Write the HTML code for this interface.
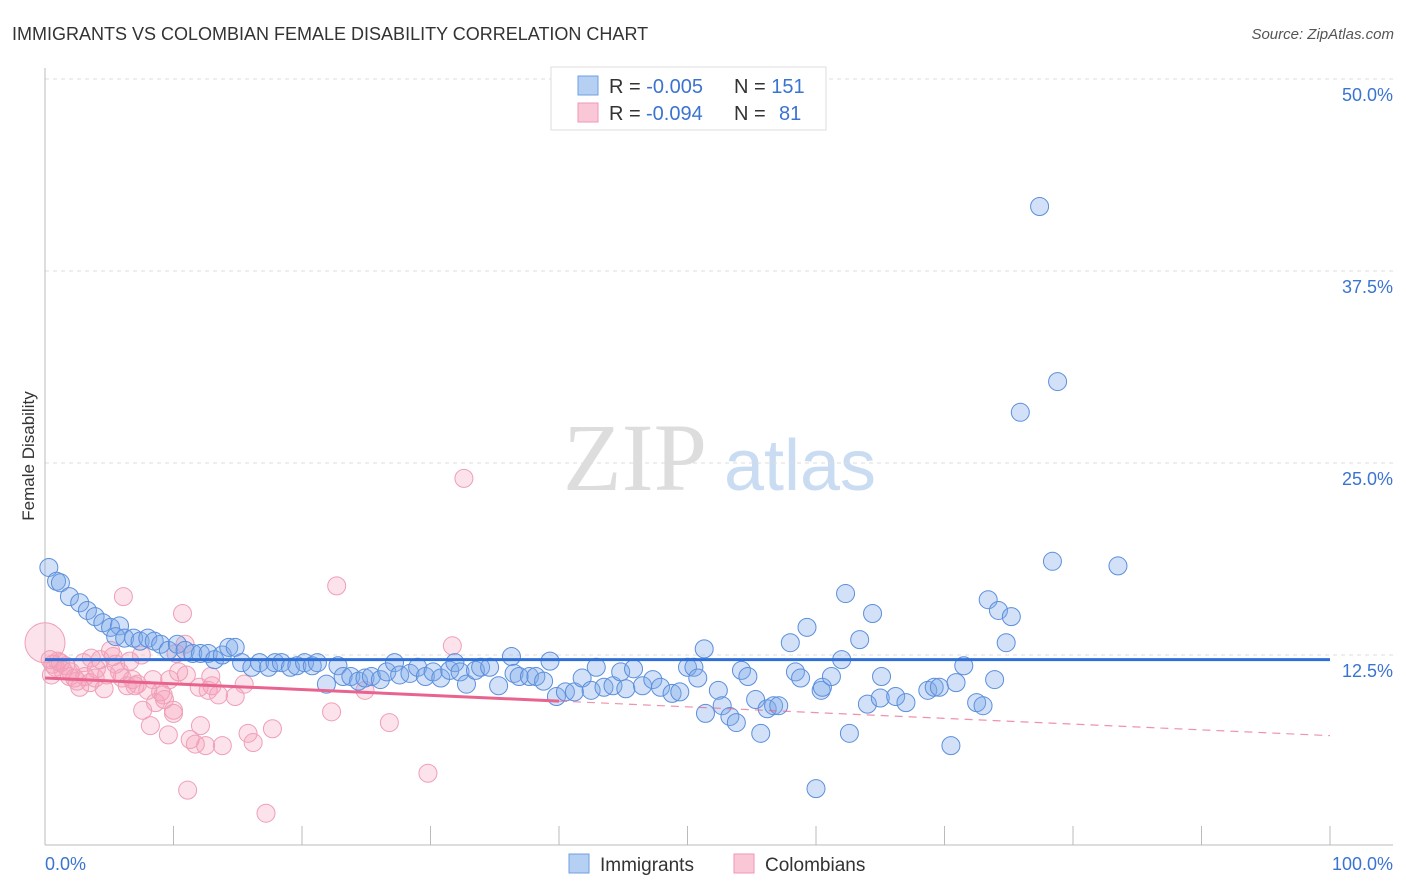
<!DOCTYPE html>
<html><head><meta charset="utf-8"><style>
body{margin:0;background:#fff;font-family:"Liberation Sans",sans-serif;}
svg{display:block}
</style></head><body>
<svg id="chart" width="1406" height="892" xmlns="http://www.w3.org/2000/svg">
<text x="12" y="40" font-size="18" fill="#333">IMMIGRANTS VS COLOMBIAN FEMALE DISABILITY CORRELATION CHART</text>
<text x="1394" y="39" font-size="15" fill="#555" font-style="italic" text-anchor="end">Source: ZipAtlas.com</text>
<text x="34" y="456" font-size="17" fill="#333" text-anchor="middle" transform="rotate(-90 34 456)">Female Disability</text>
<g>
<text x="635" y="490" font-size="96" fill="#ddd" text-anchor="middle" font-family="Liberation Serif,serif">ZIP</text>
<text x="800" y="490" font-size="72" fill="#c9dcf2" text-anchor="middle">atlas</text>
</g>
<g id="grid"></g><g id="axes"></g><g id="marks"></g><g id="trends"></g>
<g>
<rect x="551" y="67" width="275" height="63" fill="#fff" stroke="#ddd"/>
<rect x="578" y="76" width="20" height="19" fill="#b5d0f3" stroke="#6f9fe0"/>
<rect x="578" y="103" width="20" height="19" fill="#f9c7d6" stroke="#ee9ab5"/>
<text x="609" y="93" font-size="20" fill="#333">R = <tspan fill="#3a74d0">-0.005</tspan><tspan x="734">N = </tspan><tspan fill="#3a74d0">151</tspan></text>
<text x="609" y="120" font-size="20" fill="#333">R = <tspan fill="#3a74d0" x="646">-0.094</tspan><tspan x="734">N = </tspan><tspan fill="#3a74d0" x="779">81</tspan></text>
</g>
<g>
<rect x="569" y="854" width="20" height="19" fill="#b5d0f3" stroke="#6f9fe0"/>
<text x="600" y="871" font-size="19" fill="#333">Immigrants</text>
<rect x="734" y="854" width="20" height="19" fill="#f9c7d6" stroke="#ee9ab5"/>
<text x="765" y="871" font-size="19" fill="#333">Colombians</text>
</g>
</svg>
<script>
const yTicks=[12.5,25,37.5,50];
const yTickLabels=["12.5%","25.0%","37.5%","50.0%"];
const xTickLabels=["0.0%","100.0%"];
const immX=[0.3,0.9,1.2,1.9,2.7,3.3,3.9,4.5,5.1,5.8,5.5,6.2,6.9,7.4,8.0,8.5,9.0,9.6,10.3,10.9,11.5,12.1,12.7,13.2,13.8,14.3,14.8,15.3,16.1,16.7,17.4,17.9,18.4,19.1,19.6,20.2,20.8,21.2,21.9,22.8,23.2,23.8,24.4,24.9,25.4,26.1,26.6,27.2,27.6,28.4,29.0,29.6,30.2,30.8,31.5,31.9,32.3,32.8,33.5,33.9,34.6,35.3,36.3,36.5,36.9,37.7,38.2,38.8,39.3,39.8,40.5,41.2,41.8,42.5,42.9,43.5,44.2,44.8,45.2,45.8,46.5,47.3,47.9,48.8,49.4,50.0,50.5,50.8,51.3,51.4,52.4,52.7,53.3,53.8,54.2,54.7,55.3,55.7,56.2,56.7,57.1,58.0,58.4,58.8,59.3,60.0,60.4,60.5,61.2,62.0,62.3,62.6,63.4,64.0,64.4,65.0,65.1,66.2,67.0,68.7,69.2,69.6,70.5,70.9,71.5,72.5,73.0,73.4,73.9,74.2,74.8,75.2,75.9,77.4,78.4,78.8,83.5];
const immY=[18.2,17.3,17.2,16.3,15.9,15.4,15.0,14.6,14.3,14.4,13.7,13.6,13.6,13.4,13.6,13.4,13.2,12.8,13.2,12.8,12.6,12.6,12.6,12.2,12.5,13.0,13.0,12.0,11.7,12.0,11.7,12.0,12.0,11.7,11.8,12.0,11.8,12.0,10.6,11.8,11.1,11.1,10.8,11.0,11.1,10.9,11.4,12.0,11.2,11.3,11.7,11.1,11.4,11.0,11.5,12.0,11.4,10.6,11.5,11.7,11.7,10.5,12.4,11.3,11.1,11.1,11.1,10.8,12.1,9.8,10.1,10.1,11.0,10.2,11.7,10.4,10.5,11.4,10.3,11.6,10.5,10.9,10.4,10.0,10.1,11.7,11.7,11.0,12.9,8.7,10.2,9.2,8.5,8.1,11.5,11.1,9.6,7.4,9.0,9.2,9.2,13.3,11.4,11.0,14.3,3.8,10.2,10.4,11.1,12.2,16.5,7.4,13.5,9.3,15.2,9.7,11.1,9.8,9.4,10.2,10.4,10.4,6.6,10.7,11.8,9.4,9.2,16.1,10.9,15.4,13.3,15.0,28.3,41.7,18.6,30.3,18.3];
const colX=[0.4,0.8,1.2,1.6,0.5,1.9,2.3,2.7,3.1,3.5,3.9,4.3,4.6,5.1,5.5,5.8,6.1,6.4,6.8,7.2,7.5,7.6,8.0,8.2,8.6,9.0,9.3,9.6,9.7,10.0,10.0,10.4,10.7,10.9,11.1,11.3,11.7,12.1,12.5,12.7,13.0,13.8,14.8,15.5,15.8,16.2,17.2,17.7,22.3,22.7,24.9,26.8,29.8,31.7,32.6,0.6,1.0,1.4,2.0,2.5,3.0,3.6,4.0,4.8,5.3,6.0,6.6,7.0,8.4,9.2,10.2,11.0,12.0,12.9,13.5];
const colY=[12.2,11.7,12.0,11.8,11.2,11.1,11.0,10.4,11.1,10.7,11.0,12.2,10.3,12.8,11.9,11.4,16.3,10.5,10.9,10.6,12.5,8.9,10.2,7.9,9.4,10.1,9.6,7.3,10.9,8.9,8.7,11.4,15.2,13.2,3.7,7.0,6.7,7.9,6.6,10.2,10.5,6.6,9.8,10.6,7.4,6.8,2.2,7.7,8.8,17.0,10.2,8.1,4.8,13.1,24.0,11.9,12.1,11.5,11.4,10.8,12.0,12.3,11.6,11.2,12.4,11.0,12.1,10.5,10.9,9.9,12.6,11.2,10.4,11.1,9.9];
const immTrend=[12.2,12.2];
const colTrend=[11.0,7.25];
const colSolidEnd=40;
const X0=45,X1=1330,Y0=847,YS=(847-79)/50;
const sx=v=>X0+(X1-X0)*v/100;
const sy=v=>Y0-v*YS;
const NS="http://www.w3.org/2000/svg";
function mk(tag,attrs,parent){const e=document.createElementNS(NS,tag);for(const k in attrs)e.setAttribute(k,attrs[k]);parent.appendChild(e);return e;}
const grid=document.getElementById('grid'),axes=document.getElementById('axes'),marks=document.getElementById('marks'),trends=document.getElementById('trends');
yTicks.forEach((t,i)=>{
 const l=mk('line',{x1:X0,x2:1393,y1:sy(t),y2:sy(t),stroke:'#ddd','stroke-dasharray':'4,4'},grid);
 
 
 const tx=mk('text',{x:1393,y:sy(t)+22,'font-size':18,fill:'#3a74d0','text-anchor':'end'},axes);
 tx.textContent=yTickLabels[i];
 
 
});
let a=mk('line',{x1:X0,x2:X0,y1:68,y2:845,stroke:'#bbb'},axes);


a=mk('line',{x1:X0,x2:1393,y1:845,y2:845,stroke:'#bbb'},axes);


for(let i=0;i<=10;i++){
 const t=mk('line',{x1:sx(i*10),x2:sx(i*10),y1:826,y2:845,stroke:'#bbb'},axes);
 
 
}
let xl=mk('text',{x:45,y:870,'font-size':18,fill:'#3a74d0'},axes);xl.textContent=xTickLabels[0];


xl=mk('text',{x:1393,y:870,'font-size':18,fill:'#3a74d0','text-anchor':'end'},axes);xl.textContent=xTickLabels[1];


const big=mk('circle',{cx:sx(0),cy:sy(13.3),r:20,fill:'rgba(244,160,186,0.3)',stroke:'#ef9fb8'},marks);


colX.forEach((x,i)=>{
 const c=mk('circle',{cx:sx(x),cy:sy(colY[i]),r:9,fill:'rgba(244,160,186,0.3)',stroke:'#ef9fb8'},marks);
 
 
});
immX.forEach((x,i)=>{
 const c=mk('circle',{cx:sx(x),cy:sy(immY[i]),r:9,fill:'rgba(125,170,232,0.35)',stroke:'#5b8fdc'},marks);
 
 
});
let tl=mk('line',{x1:sx(0),x2:sx(100),y1:sy(immTrend[0]),y2:sy(immTrend[1]),stroke:'#2f6fd6','stroke-width':3},trends);


const cy=x=>colTrend[0]+(colTrend[1]-colTrend[0])*x/100;
tl=mk('line',{x1:sx(0),x2:sx(colSolidEnd),y1:sy(cy(0)),y2:sy(cy(colSolidEnd)),stroke:'#e8648f','stroke-width':3},trends);


tl=mk('line',{x1:sx(colSolidEnd),x2:sx(100),y1:sy(cy(colSolidEnd)),y2:sy(cy(100)),stroke:'#e8648f','stroke-width':1.2,'stroke-dasharray':'8,6',opacity:0.7},trends);


</script>
</body></html>
